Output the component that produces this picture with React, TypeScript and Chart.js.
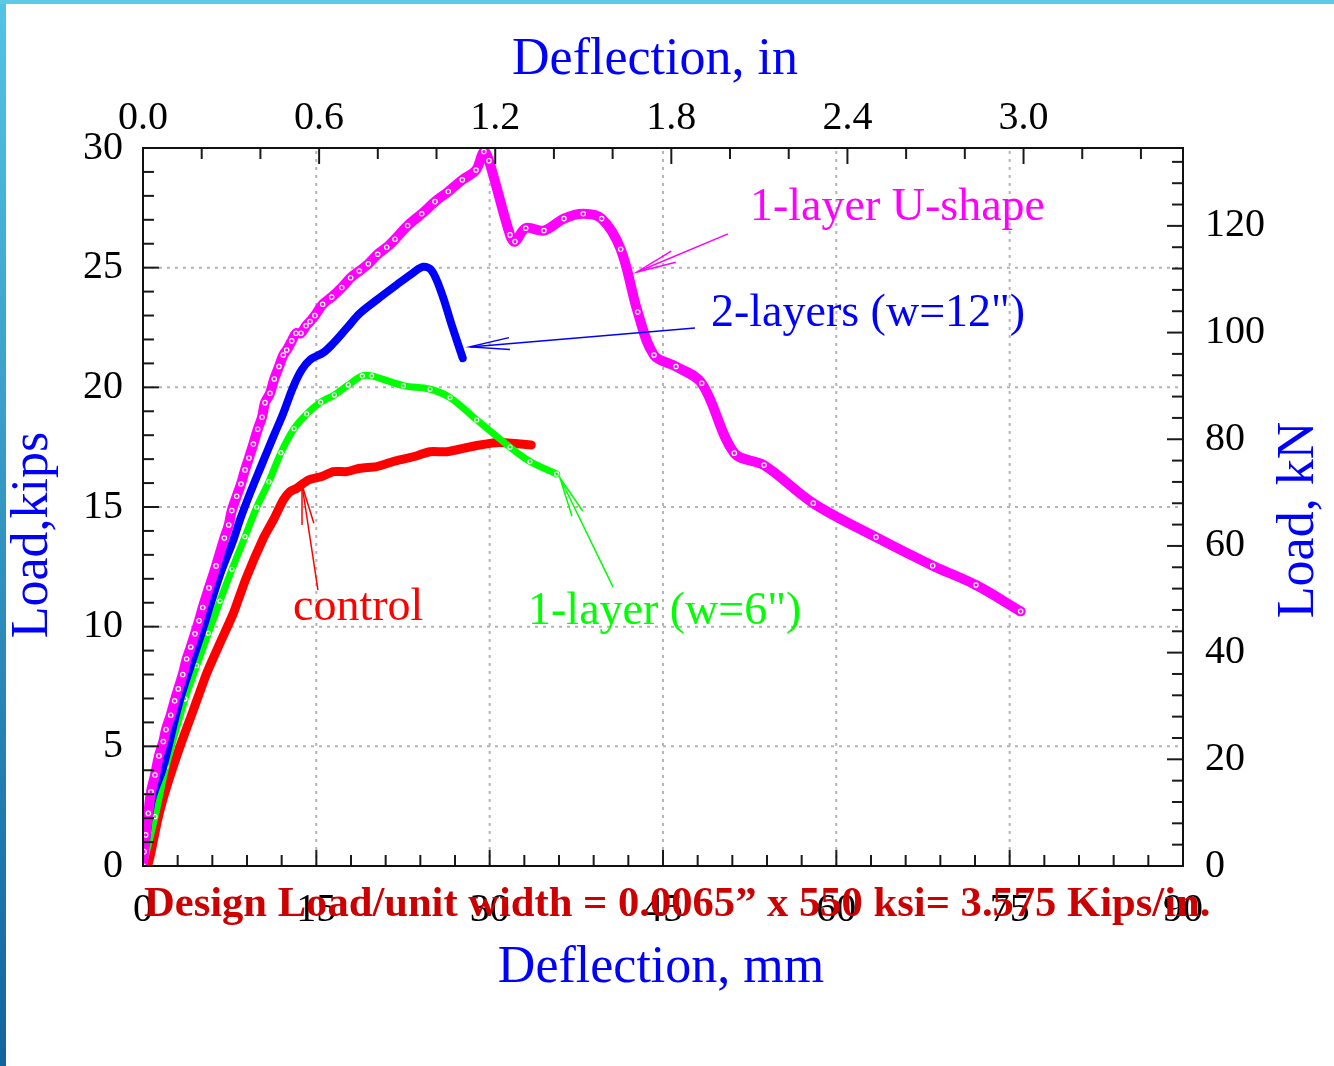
import { useEffect, useRef } from "react";
import { Chart, registerables } from "chart.js";

Chart.register(...registerables);

// ---------- data (deflection in mm, load in kips) ----------
const uShapeMm = [0, 0.09, 0.23, 0.46, 0.69, 1.04, 1.38, 1.76, 1.99, 2.4, 2.74, 3.05, 3.44, 3.78, 4.13, 4.5, 4.85, 5.17, 5.71, 6.32, 7.04, 7.42, 7.68, 8.11, 8.48, 8.83, 9.17, 9.55, 9.93, 10.3, 10.56, 10.99, 11.36, 11.77, 12.14, 12.44, 12.87, 13.24, 13.67, 14.11, 14.45, 14.88, 15.55, 16.33, 17.2, 17.97, 18.72, 19.5, 20.31, 21.09, 21.81, 22.9, 24.12, 25.27, 26.42, 27.63, 28.82, 29.5, 29.94, 31.76, 32.19, 33.12, 34.7, 36.43, 38.1, 39.69, 41.34, 42.81, 44.22, 46.12, 48.35, 51.17, 53.74, 58.0, 63.43, 68.34, 72.08, 75.95];
const uShapeKips = [0, 0.6, 1.3, 2.2, 3.1, 3.8, 4.6, 5.2, 5.7, 6.3, 6.9, 7.4, 8.0, 8.65, 9.15, 9.7, 10.25, 10.8, 11.62, 12.54, 13.7, 14.25, 14.85, 15.45, 15.96, 16.55, 17.05, 17.63, 18.25, 18.75, 19.36, 19.75, 20.35, 20.87, 21.35, 21.56, 21.94, 22.26, 22.26, 22.57, 22.75, 23.0, 23.47, 23.77, 24.17, 24.58, 24.86, 25.16, 25.56, 25.85, 26.19, 26.76, 27.25, 27.76, 28.18, 28.67, 29.08, 29.85, 29.47, 26.37, 26.09, 26.65, 26.55, 27.05, 27.25, 27.05, 25.77, 23.15, 21.35, 20.87, 20.17, 17.25, 16.75, 15.16, 13.74, 12.55, 11.74, 10.64];

const twoLayerMm = [0, 0.26, 0.78, 1.76, 3.2, 5.08, 6.66, 7.82, 8.39, 9.26, 10.27, 11.28, 12.14, 13.01, 13.73, 14.45, 15.6, 16.47, 17.63, 18.78, 20.22, 21.95, 23.39, 24.26, 24.98, 25.85, 26.71, 27.67];
const twoLayerKips = [0, 1.09, 2.76, 4.15, 6.94, 9.74, 12.16, 13.62, 14.46, 15.57, 16.76, 17.94, 18.92, 20.03, 20.73, 21.15, 21.45, 21.84, 22.47, 23.1, 23.65, 24.28, 24.79, 25.04, 24.88, 23.93, 22.61, 21.22];

const oneLayerMm = [0, 1.04, 1.99, 3.63, 4.65, 5.65, 6.66, 7.7, 8.83, 9.84, 10.9, 11.94, 13.07, 14.17, 15.38, 16.56, 17.77, 18.98, 19.79, 22.53, 24.84, 26.57, 28.88, 31.76, 33.49, 35.8];
const oneLayerKips = [0, 2.06, 4.15, 6.98, 8.37, 9.72, 11.07, 12.4, 13.76, 14.99, 16.06, 17.27, 18.27, 18.89, 19.38, 19.68, 20.1, 20.48, 20.48, 20.07, 19.92, 19.57, 18.64, 17.5, 16.9, 16.38];

const controlMm = [0.4, 0.61, 1.33, 2.05, 3.2, 4.36, 5.51, 6.66, 7.82, 8.9, 10.41, 11.28, 12.14, 12.72, 13.3, 14.31, 15.46, 16.47, 17.63, 18.78, 20.22, 21.66, 23.39, 24.84, 26.28, 27.72, 29.16, 30.89, 33.6];
const controlKips = [0, 0.39, 2.06, 3.31, 4.99, 6.52, 8.05, 9.31, 10.56, 12.0, 13.69, 14.46, 15.29, 15.64, 15.78, 16.13, 16.27, 16.48, 16.48, 16.62, 16.69, 16.9, 17.1, 17.31, 17.31, 17.45, 17.59, 17.69, 17.59];

// ---------- tick labels ----------
const mmTicks = [0, 15, 30, 45, 60, 75, 90];
const inTicks = [0, 0.6, 1.2, 1.8, 2.4, 3.0];
const kipsTicks = [0, 5, 10, 15, 20, 25, 30];
const kNTicks = [0, 20, 40, 60, 80, 100, 120];

const MM_MAX = 90;
const IN_MAX = 90 / 25.4;
const KIPS_MAX = 30;
const KN_MAX = 134.6;

// ---------- annotations ----------
const notes = [
  { text: "1-layer U-shape", color: "#ff00ff", tx: 52.53, ty: 27.5, fx: 50.62, fy: 26.41, ax: 42.75, ay: 24.82 },
  { text: '2-layers (w=12")', color: "#0000ff", tx: 49.15, ty: 23.07, fx: 47.77, fy: 22.48, ax: 28.3, ay: 21.69 },
  { text: '1-layer (w=6")', color: "#00ff00", tx: 33.32, ty: 10.61, fx: 40.67, fy: 11.66, ax: 36.09, ay: 16.21 },
  { text: "control", color: "#ff0000", tx: 12.98, ty: 10.78, fx: 15.14, fy: 11.53, ax: 13.76, ay: 15.92 },
];
const designText = "Design Load/unit width = 0.0065\u201D x 550 ksi= 3.575 Kips/in.";

const SERIF = "'Liberation Serif', 'DejaVu Serif', serif";

const pts = (xs: number[], ys: number[]) => xs.map((x, i) => ({ x, y: ys[i] }));

function drawArrow(ctx: CanvasRenderingContext2D, x1: number, y1: number, x2: number, y2: number, color: string) {
  ctx.save();
  ctx.strokeStyle = color;
  ctx.lineWidth = 1.5;
  ctx.beginPath();
  ctx.moveTo(x1, y1);
  ctx.lineTo(x2, y2);
  ctx.stroke();
  const ang = Math.atan2(y1 - y2, x1 - x2);
  const L = 40;
  const a = 0.15;
  ctx.beginPath();
  ctx.moveTo(x2 + L * Math.cos(ang + a), y2 + L * Math.sin(ang + a));
  ctx.lineTo(x2, y2);
  ctx.lineTo(x2 + L * Math.cos(ang - a), y2 + L * Math.sin(ang - a));
  ctx.stroke();
  ctx.restore();
}

const decorPlugin = {
  id: "decor",
  beforeDraw(chart: any) {
    const { ctx, width, height } = chart;
    ctx.save();
    ctx.fillStyle = "#ffffff";
    ctx.fillRect(0, 0, width, height);
    const g = ctx.createLinearGradient(0, 0, 0, height);
    g.addColorStop(0, "#52c4e4");
    g.addColorStop(1, "#13639d");
    ctx.fillStyle = g;
    ctx.fillRect(0, 0, 6, height);
    ctx.fillStyle = "#5cc9e7";
    ctx.fillRect(0, 0, width, 4);
    ctx.restore();
  },
  beforeDatasetsDraw(chart: any) {
    const { ctx, chartArea: ca, scales } = chart;
    ctx.save();
    ctx.strokeStyle = "#b4b4b4";
    ctx.lineWidth = 2;
    ctx.setLineDash([3, 5]);
    for (let i = 1; i < mmTicks.length - 1; i++) {
      const px = scales.x.getPixelForValue(mmTicks[i]);
      ctx.beginPath();
      ctx.moveTo(px, ca.bottom);
      ctx.lineTo(px, ca.top);
      ctx.stroke();
    }
    for (let i = 1; i < kipsTicks.length - 1; i++) {
      const py = scales.y.getPixelForValue(kipsTicks[i]);
      ctx.beginPath();
      ctx.moveTo(ca.left, py);
      ctx.lineTo(ca.right, py);
      ctx.stroke();
    }
    ctx.restore();
  },
  afterDraw(chart: any) {
    const { ctx, chartArea: ca, scales } = chart;
    ctx.save();
    // inward ticks
    ctx.strokeStyle = "#1a1a1a";
    ctx.lineWidth = 2;
    const minorL = 11;
    const majorL = 16;
    for (let k = 0; k <= 30; k++) {
      const px = scales.x.getPixelForValue(k * 3);
      const L = k % 5 === 0 ? majorL : minorL;
      ctx.beginPath();
      ctx.moveTo(px, ca.bottom);
      ctx.lineTo(px, ca.bottom - L);
      ctx.stroke();
    }
    for (let k = 0; k <= 17; k++) {
      const px = scales.x2.getPixelForValue(k * 0.2);
      const L = k % 3 === 0 ? majorL : minorL;
      ctx.beginPath();
      ctx.moveTo(px, ca.top);
      ctx.lineTo(px, ca.top + L);
      ctx.stroke();
    }
    for (let k = 0; k <= 30; k++) {
      const py = scales.y.getPixelForValue(k);
      const L = k % 5 === 0 ? majorL : minorL;
      ctx.beginPath();
      ctx.moveTo(ca.left, py);
      ctx.lineTo(ca.left + L, py);
      ctx.stroke();
    }
    for (let k = 0; k <= 33; k++) {
      const py = scales.y2.getPixelForValue(k * 4);
      const L = k % 5 === 0 ? majorL : minorL;
      ctx.beginPath();
      ctx.moveTo(ca.right, py);
      ctx.lineTo(ca.right - L, py);
      ctx.stroke();
    }
    // frame
    ctx.strokeStyle = "#111";
    ctx.lineWidth = 2;
    ctx.strokeRect(ca.left, ca.top, ca.right - ca.left, ca.bottom - ca.top);

    // annotations
    ctx.font = `46px ${SERIF}`;
    ctx.textBaseline = "middle";
    ctx.textAlign = "left";
    for (const n of notes) {
      const tx = scales.x.getPixelForValue(n.tx);
      const ty = scales.y.getPixelForValue(n.ty);
      ctx.fillStyle = n.color;
      ctx.fillText(n.text, tx, ty);
      drawArrow(
        ctx,
        scales.x.getPixelForValue(n.fx),
        scales.y.getPixelForValue(n.fy),
        scales.x.getPixelForValue(n.ax),
        scales.y.getPixelForValue(n.ay),
        n.color
      );
    }

    // axis titles
    ctx.fillStyle = "#0000ff";
    ctx.font = `52px ${SERIF}`;
    ctx.textAlign = "center";
    ctx.textBaseline = "middle";
    ctx.fillText("Deflection, in", 655, 60);
    ctx.fillText("Deflection, mm", 661, 968);
    ctx.save();
    ctx.translate(33, 535);
    ctx.rotate(-Math.PI / 2);
    ctx.fillText("Load,kips", 0, 0);
    ctx.restore();
    ctx.save();
    ctx.translate(1299, 520);
    ctx.rotate(-Math.PI / 2);
    ctx.fillText("Load, kN", 0, 0);
    ctx.restore();

    // design load text
    ctx.fillStyle = "#cc0000";
    ctx.font = `bold 42.6px ${SERIF}`;
    ctx.textAlign = "left";
    ctx.fillText(designText, 144, 905);
    ctx.restore();
  },
};

const tickFont = { family: SERIF, size: 40 };
const noGrid = { display: false, drawTicks: false, tickLength: 0 };

export default function App() {
  const ref = useRef<HTMLCanvasElement | null>(null);
  useEffect(() => {
    document.body.style.margin = "0";
    if (!ref.current) return;
    const chart = new Chart(ref.current, {
      type: "line",
      data: {
        datasets: [
          {
            label: "1-layer U-shape",
            data: pts(uShapeMm, uShapeKips),
            borderColor: "#ff00ff",
            borderWidth: 10,
            pointRadius: 2.2,
            pointBackgroundColor: "#ff00ff",
            pointBorderColor: "#ffffff",
            pointBorderWidth: 1.2,
            tension: 0.35,
            xAxisID: "x",
            yAxisID: "y",
          },
          {
            label: '2-layers (w=12")',
            data: pts(twoLayerMm, twoLayerKips),
            borderColor: "#0000ff",
            borderWidth: 8,
            pointRadius: 0,
            tension: 0.35,
            xAxisID: "x",
            yAxisID: "y",
          },
          {
            label: '1-layer (w=6")',
            data: pts(oneLayerMm, oneLayerKips),
            borderColor: "#00ff00",
            borderWidth: 7,
            pointRadius: 2,
            pointBackgroundColor: "#00ff00",
            pointBorderColor: "#ffffff",
            pointBorderWidth: 1.2,
            tension: 0.35,
            xAxisID: "x",
            yAxisID: "y",
          },
          {
            label: "control",
            data: pts(controlMm, controlKips),
            borderColor: "#ff0000",
            borderWidth: 9,
            pointRadius: 0,
            tension: 0.2,
            xAxisID: "x",
            yAxisID: "y",
          },
        ],
      },
      options: {
        responsive: false,
        animation: false,
        devicePixelRatio: 1,
        layout: { padding: 0 },
        plugins: { legend: { display: false }, tooltip: { enabled: false } },
        elements: { line: { borderCapStyle: "round", borderJoinStyle: "round" } },
        scales: {
          x: {
            type: "linear",
            position: "bottom",
            min: 0,
            max: MM_MAX,
            grid: noGrid,
            border: { display: false },
            afterBuildTicks: (s: any) => { s.ticks = mmTicks.map((v) => ({ value: v })); },
            afterFit: (s: any) => { s.height = 200; },
            ticks: { font: tickFont, color: "#000", padding: 20, maxRotation: 0, autoSkip: false, callback: (v: any) => String(v) },
          },
          x2: {
            type: "linear",
            position: "top",
            min: 0,
            max: IN_MAX,
            grid: noGrid,
            border: { display: false },
            afterBuildTicks: (s: any) => { s.ticks = inTicks.map((v) => ({ value: v })); },
            afterFit: (s: any) => { s.height = 148; },
            ticks: { font: tickFont, color: "#000", padding: 6, maxRotation: 0, autoSkip: false, callback: (v: any) => Number(v).toFixed(1) },
          },
          y: {
            type: "linear",
            position: "left",
            min: 0,
            max: KIPS_MAX,
            grid: noGrid,
            border: { display: false },
            afterBuildTicks: (s: any) => { s.ticks = kipsTicks.map((v) => ({ value: v })); },
            afterFit: (s: any) => { s.width = 143; },
            ticks: { font: tickFont, color: "#000", padding: 20, autoSkip: false, callback: (v: any) => String(v) },
          },
          y2: {
            type: "linear",
            position: "right",
            min: 0,
            max: KN_MAX,
            grid: noGrid,
            border: { display: false },
            afterBuildTicks: (s: any) => { s.ticks = kNTicks.map((v) => ({ value: v })); },
            afterFit: (s: any) => { s.width = 151; },
            ticks: { font: tickFont, color: "#000", padding: 22, autoSkip: false, callback: (v: any) => String(v) },
          },
        },
      } as any,
      plugins: [decorPlugin],
    });
    return () => chart.destroy();
  }, []);
  return (
    <div style={{ width: 1334, height: 1066 }}>
      <canvas ref={ref} width={1334} height={1066} style={{ display: "block" }} />
    </div>
  );
}
